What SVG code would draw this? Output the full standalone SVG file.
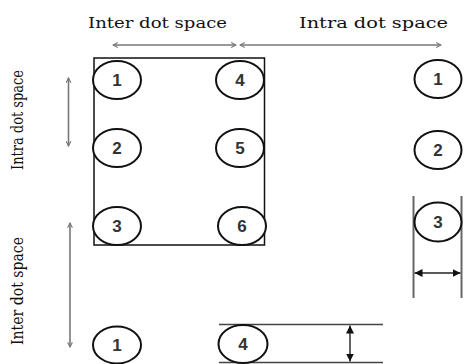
<svg xmlns="http://www.w3.org/2000/svg" width="465" height="364" viewBox="0 0 465 364">
<style>
.dot{fill:#fff;stroke:#111;stroke-width:2}
.num{font-family:"Liberation Sans",Arial,sans-serif;font-weight:bold;font-size:17px;fill:#333;text-anchor:middle}
.lbl{font-family:"DejaVu Serif","Liberation Serif",serif;font-size:15px;fill:#111}
.vlbl{font-family:"DejaVu Serif","Liberation Serif",serif;font-size:16px;fill:#111}
.garrow{stroke:#777;stroke-width:1.6;fill:none;marker-start:url(#oa);marker-end:url(#oa)}
.barr{stroke:#222;stroke-width:1.4;fill:none;marker-start:url(#fa);marker-end:url(#fa)}
.gline{stroke:#666;stroke-width:2;fill:none}
.kline{stroke:#444;stroke-width:1.5;fill:none}
</style>
<defs>
<marker id="oa" viewBox="0 0 10 10" refX="9" refY="5" markerWidth="6" markerHeight="6" orient="auto-start-reverse" markerUnits="userSpaceOnUse">
<path d="M1,1 L9,5 L1,9" fill="none" stroke="#777" stroke-width="1.8"/>
</marker>
<marker id="fa" viewBox="0 0 10 10" refX="10" refY="5" markerWidth="8" markerHeight="8" orient="auto-start-reverse" markerUnits="userSpaceOnUse">
<path d="M0,0 L10,5 L0,10 Z" fill="#111"/>
</marker>
</defs>
<rect width="465" height="364" fill="#fff"/>
<g id="labels">
<text class="lbl" x="88" y="28" textLength="139" lengthAdjust="spacingAndGlyphs">Inter dot space</text>
<text class="lbl" x="299" y="28" textLength="149" lengthAdjust="spacingAndGlyphs">Intra dot space</text>
<text class="vlbl" transform="translate(23,170) rotate(-90)" x="0" y="0" textLength="100" lengthAdjust="spacingAndGlyphs">Intra dot space</text>
<text class="vlbl" transform="translate(23,345) rotate(-90)" x="0" y="0" textLength="108" lengthAdjust="spacingAndGlyphs">Inter dot space</text>
</g>
<g id="cell">
<rect x="94" y="58" width="170.5" height="187" fill="none" stroke="#111" stroke-width="1.5"/>
</g>
<g id="connectors">
<line class="garrow" x1="113" y1="45" x2="236" y2="45"/>
<line class="garrow" x1="240" y1="45" x2="441" y2="45"/>
<line class="garrow" x1="68.5" y1="78" x2="68.5" y2="146"/>
<line class="garrow" x1="70" y1="223" x2="70" y2="347"/>
<line class="gline" x1="413.5" y1="196" x2="413.5" y2="298"/>
<line class="gline" x1="461.5" y1="196" x2="461.5" y2="298"/>
<line class="barr" x1="414.5" y1="273" x2="460.5" y2="273"/>
<line class="kline" x1="219" y1="324.5" x2="383" y2="324.5"/>
<line class="kline" x1="219" y1="362.5" x2="383" y2="362.5"/>
<line class="barr" x1="350" y1="325.5" x2="350" y2="361.5"/>
</g>
<g id="dot-1"><ellipse class="dot" cx="117" cy="80" rx="24" ry="19"/><text class="num" x="117" y="86">1</text></g>
<g id="dot-2"><ellipse class="dot" cx="117" cy="148" rx="24" ry="19"/><text class="num" x="117" y="154">2</text></g>
<g id="dot-3"><ellipse class="dot" cx="117" cy="226" rx="24" ry="19"/><text class="num" x="117" y="232">3</text></g>
<g id="dot-4"><ellipse class="dot" cx="240" cy="80" rx="24" ry="19"/><text class="num" x="240" y="86">4</text></g>
<g id="dot-5"><ellipse class="dot" cx="240" cy="148" rx="24" ry="19"/><text class="num" x="240" y="154">5</text></g>
<g id="dot-6"><ellipse class="dot" cx="242" cy="226" rx="24" ry="19"/><text class="num" x="242" y="232">6</text></g>
<g id="right-1"><ellipse class="dot" cx="438" cy="79" rx="23.5" ry="19"/><text class="num" x="438" y="85">1</text></g>
<g id="right-2"><ellipse class="dot" cx="438" cy="150" rx="23.5" ry="19"/><text class="num" x="438" y="156">2</text></g>
<g id="right-3"><ellipse class="dot" cx="438" cy="222" rx="23.5" ry="19.5"/><text class="num" x="438" y="228">3</text></g>
<g id="bottom-1"><ellipse class="dot" cx="117" cy="345" rx="24" ry="18.5"/><text class="num" x="117" y="351">1</text></g>
<g id="bottom-4"><ellipse class="dot" cx="243" cy="344" rx="24.5" ry="19"/><text class="num" x="243" y="350">4</text></g>
</svg>
